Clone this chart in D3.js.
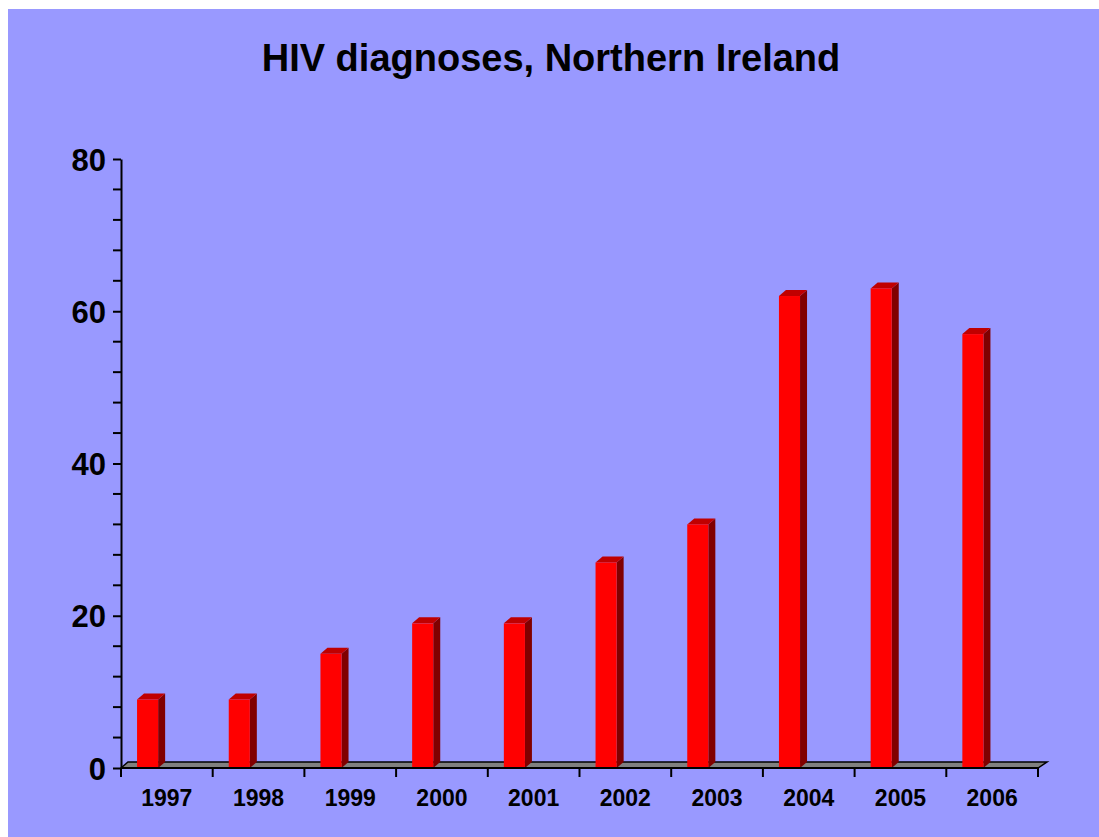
<!DOCTYPE html>
<html>
<head>
<meta charset="utf-8">
<script src="https://cdn.jsdelivr.net/npm/d3@7"></script>
<style>
    body { margin: 0; background: #ffffff; }
    svg { display: block; }
    .title { font-family: Arial, "Liberation Sans", sans-serif; font-weight: bold; font-size: 38px; }
    .y-label { font-family: Arial, "Liberation Sans", sans-serif; font-weight: bold; font-size: 31px; }
    .x-label { font-family: Arial, "Liberation Sans", sans-serif; font-weight: bold; font-size: 23px; }
</style>
</head>
<body>
<div id="chart"></div>
<script>
// data
const years = ["1997", "1998", "1999", "2000", "2001", "2002", "2003", "2004", "2005", "2006"];
const diagnoses = [9, 9, 15, 19, 19, 27, 32, 62, 63, 57];
const yMajorTicks = [0, 20, 40, 60, 80];
const yMinorTicks = [4, 8, 12, 16, 24, 28, 32, 36, 44, 48, 52, 56, 64, 68, 72, 76];
const chartTitle = "HIV diagnoses, Northern Ireland";

const width = 1099, height = 837;
const margin = { top: 159, right: 61, bottom: 69, left: 121 };
const depthX = 7, depthY = 6;   // fake 3d offset

let svg = d3.select("#chart").append("svg").attr("width", width).attr("height", height);

// plot area background
svg.append("rect").attr("x", 8).attr("y", 9).attr("width", width - 8).attr("height", height - 9).attr("fill", "#9999ff");

let x = d3.scaleBand().domain(years).range([margin.left, width - margin.right]).padding(0);
let y = d3.scaleLinear().domain([0, 80]).range([height - margin.bottom, margin.top]);
let y0 = y(0);
let bw = x.bandwidth();

svg.append("text").attr("class", "title").attr("x", 551).attr("y", 71).attr("text-anchor", "middle").text(chartTitle);

// floor
let x0 = x.range()[0], x1 = x.range()[1];
svg.append("path")
    .attr("d", "M" + x0 + "," + y0 + "L" + (x0 + depthX) + "," + (y0 - depthY) + "L" + (x1 + depthX + 2) + "," + (y0 - depthY) + "L" + x1 + "," + y0 + "Z")
    .attr("fill", "#808080").attr("stroke", "#000").attr("stroke-width", 1.5);

// bars with side and top faces
let bars = svg.selectAll(".bar").data(years.map((yr, i) => ({ year: yr, value: diagnoses[i] }))).join("g").attr("class", "bar");
let barLeft = d => x(d.year) + bw * 0.175;
let barW = bw * 0.23;
bars.append("path")
    .attr("d", d => {
        let l = barLeft(d) + barW, t = y(d.value);
        return "M" + l + "," + y0 + "L" + l + "," + t + "L" + (l + depthX) + "," + (t - depthY) + "L" + (l + depthX) + "," + (y0 - depthY) + "Z";
    })
    .attr("fill", "#800000");
bars.append("path")
    .attr("d", d => {
        let l = barLeft(d), t = y(d.value);
        return "M" + l + "," + t + "L" + (l + depthX) + "," + (t - depthY) + "L" + (l + barW + depthX) + "," + (t - depthY) + "L" + (l + barW) + "," + t + "Z";
    })
    .attr("fill", "#c00000");
bars.append("rect")
    .attr("x", d => barLeft(d)).attr("y", d => y(d.value))
    .attr("width", barW).attr("height", d => y0 - y(d.value))
    .attr("fill", "#ff0000");

// y axis
let yAxis = svg.append("g").attr("transform", "translate(" + margin.left + ",0)")
    .call(d3.axisLeft(y).tickValues(yMajorTicks).tickSize(8).tickSizeOuter(0).tickPadding(7));
yAxis.attr("font-family", null).attr("font-size", null);
yAxis.select(".domain").attr("stroke-width", 2);
yAxis.selectAll(".tick line").attr("stroke-width", 2);
yAxis.selectAll("text").attr("class", "y-label").attr("fill", "#000").attr("dy", "0.36em");
yAxis.selectAll(".minor").data(yMinorTicks).join("line").attr("class", "minor")
    .attr("x1", -8).attr("x2", 0).attr("y1", d => y(d)).attr("y2", d => y(d))
    .attr("stroke", "#000").attr("stroke-width", 2);

// x axis
svg.append("line").attr("x1", x0).attr("x2", x1).attr("y1", y0).attr("y2", y0).attr("stroke", "#000").attr("stroke-width", 2);
let boundaries = years.map(d => x(d)).concat([x1]);
svg.selectAll(".xtick").data(boundaries).join("line").attr("class", "xtick")
    .attr("x1", d => d).attr("x2", d => d).attr("y1", y0).attr("y2", y0 + 9)
    .attr("stroke", "#000").attr("stroke-width", 2);
svg.selectAll(".x-label").data(years).join("text").attr("class", "x-label")
    .attr("x", d => x(d) + bw / 2).attr("y", 806).attr("text-anchor", "middle").text(d => d);
</script>
</body>
</html>
